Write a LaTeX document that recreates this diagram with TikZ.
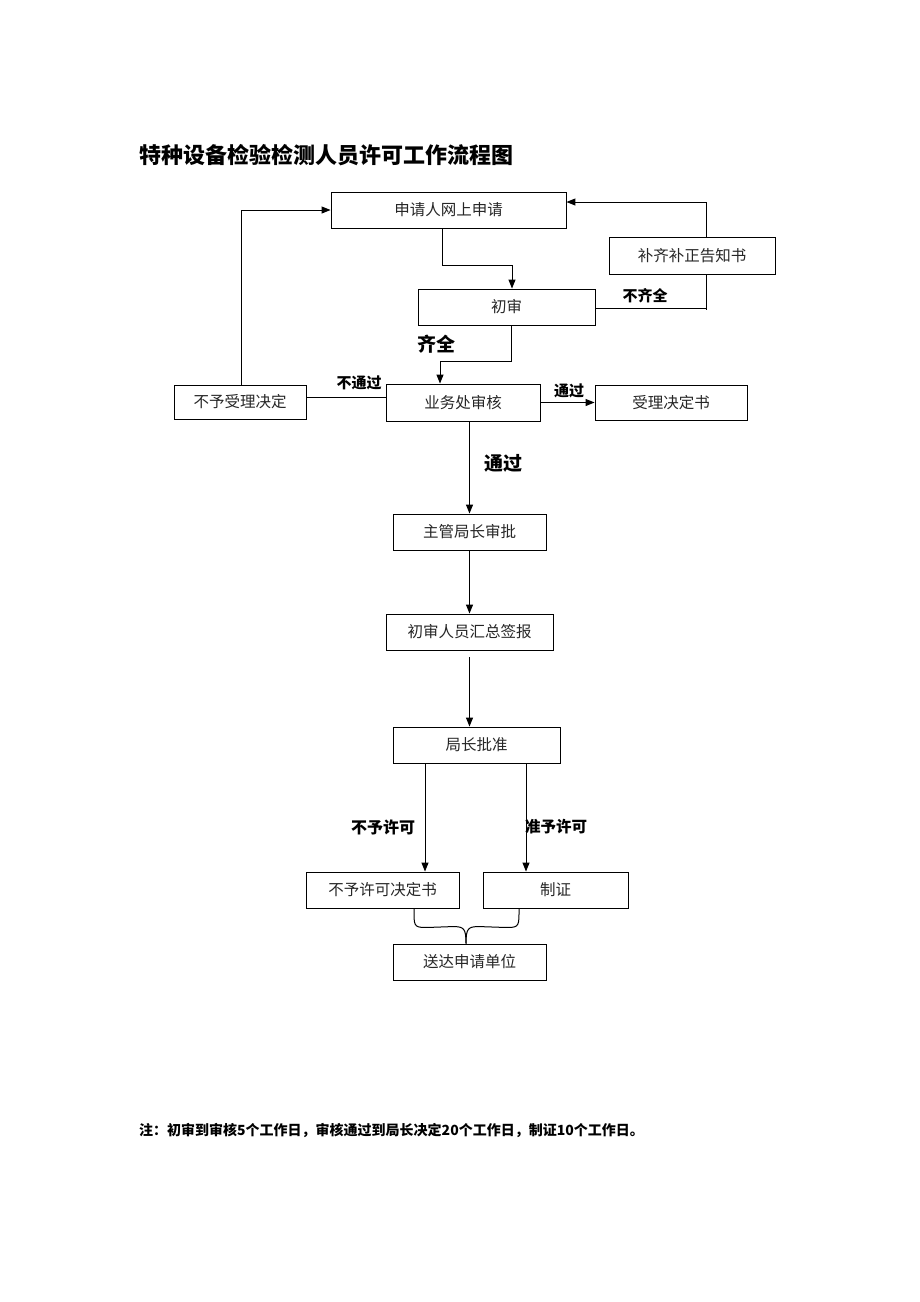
\documentclass[tikz,border=0pt]{standalone}
\usepackage{fontspec}
\newfontfamily\cjk{Noto Sans CJK SC}
\usetikzlibrary{arrows.meta,calc}
\tikzset{
  box/.style={draw, line width=0.9pt, inner sep=0pt, font=\cjk\fontsize{15.5}{18}\selectfont, text=black!85},
  arr/.style={line width=1pt, -{Triangle[length=9pt,width=7pt]}},
  ln/.style={line width=1pt},
  lab/.style={font=\cjk\bfseries\fontsize{15}{17}\selectfont, inner sep=0pt},
}
\begin{document}
\begin{tikzpicture}[x=1pt,y=-1pt]
\path[use as bounding box, fill=white] (0,0) rectangle (920,1302);

\node[font=\cjk\bfseries\fontsize{22}{25}\selectfont, anchor=west, inner sep=0pt] (title) at (139,155) {特种设备检验检测人员许可工作流程图};

\node[box, minimum width=235, minimum height=36] (apply) at (448.5,210) {申请人网上申请};
\node[box, minimum width=166, minimum height=37] (notice) at (692,255.5) {补齐补正告知书};
\node[box, minimum width=177, minimum height=36] (first) at (506.5,307) {初审};
\node[box, minimum width=132, minimum height=34] (reject) at (240,402) {不予受理决定};
\node[box, minimum width=154, minimum height=37] (review) at (463,402.5) {业务处审核};
\node[box, minimum width=152, minimum height=35] (accept) at (671,402.5) {受理决定书};
\node[box, minimum width=153, minimum height=36] (chief) at (469.5,532) {主管局长审批};
\node[box, minimum width=167, minimum height=36] (summary) at (469.5,632) {初审人员汇总签报};
\node[box, minimum width=167, minimum height=36] (director) at (476.5,745) {局长批准};
\node[box, minimum width=153, minimum height=36] (deny) at (382.5,890) {不予许可决定书};
\node[box, minimum width=145, minimum height=36] (cert) at (555.5,890) {制证};
\node[box, minimum width=153, minimum height=36] (deliver) at (469.5,962) {送达申请单位};

% apply -> first
\draw[arr] ($(apply.south)+(-6.5,0)$) -- ++(0,37) -| ($(first.north)+(5.5,0)$);
% first -> notice (incomplete)
\draw[ln] ($(first.east)+(0,1)$) -| ($(notice.south)+(14,0)$);
\draw[ln] ($(notice.south)+(14,0)$) -- ++(0,36);
% notice -> apply
\draw[arr] ($(notice.north)+(14,0)$) |- ($(apply.east)+(0,-8)$);
% first -> review (complete)
\draw[arr] ($(first.south)+(4.5,0)$) -- ++(0,36) -| ($(review.north)+(-23,0)$);
% review -- reject
\draw[ln] ($(review.west)+(0,-5)$) -- ($(reject.east)+(0,-4.5)$);
% reject -> apply
\draw[arr] ($(reject.north)+(1,0)$) |- (apply.west);
% review -> accept
\draw[arr] (review.east) -- (accept.west);
% review -> chief
\draw[arr] (chief.north |- review.south) -- (chief.north);
% chief -> summary
\draw[arr] (chief.south) -- (summary.north);
% summary -> director
\draw[arr] ($(summary.south)+(0,7)$) -- (summary.south |- director.north);
% director -> deny / cert
\coordinate (dl) at ($(director.south)+(-51.5,0)$);
\coordinate (dr) at ($(director.south)+(49.5,0)$);
\draw[arr] (dl) -- (dl |- deny.north);
\draw[arr] (dr) -- (dr |- cert.north);
% brace to deliver
\coordinate (tip) at ($(deliver.north)+(-3.5,0)$);
\coordinate (bl) at ($(deny.south)+(31.5,0)$);
\coordinate (br) at ($(cert.south)+(-36.5,0)$);
\draw[ln] (bl) -- ($(bl)+(0,6)$) .. controls ($(bl)+(0,19)$) and ($(bl)+(2,19)$) .. ($(bl)+(14,19)$) -- ($(tip)+(-13,-17)$) .. controls ($(tip)+(-2,-17)$) and ($(tip)+(0,-15)$) .. (tip);
\draw[ln] (br) -- ($(br)+(0,6)$) .. controls ($(br)+(0,19)$) and ($(br)+(-2,19)$) .. ($(br)+(-14,19)$) -- ($(tip)+(13,-17)$) .. controls ($(tip)+(2,-17)$) and ($(tip)+(0,-15)$) .. (tip);

% labels
\node[lab] (l1) at (645,296) {不齐全};
\node[lab, font=\cjk\bfseries\fontsize{19}{21}\selectfont] (l2) at (436,344) {齐全};
\node[lab] (l3) at (359,383) {不通过};
\node[lab] (l4) at (569,391) {通过};
\node[lab, font=\cjk\bfseries\fontsize{19}{21}\selectfont] (l5) at (503,463) {通过};
\node[lab, font=\cjk\bfseries\fontsize{16}{18}\selectfont] (l6) at (383,827) {不予许可};
\node[lab, font=\cjk\bfseries\fontsize{15.5}{17}\selectfont] (l7) at (556,827) {准予许可};

\node[font=\cjk\bfseries\fontsize{14}{16}\selectfont, anchor=west, inner sep=0pt] (note) at (139,1130) {注：初审到审核5个工作日，审核通过到局长决定20个工作日，制证10个工作日。};
\end{tikzpicture}
\end{document}
